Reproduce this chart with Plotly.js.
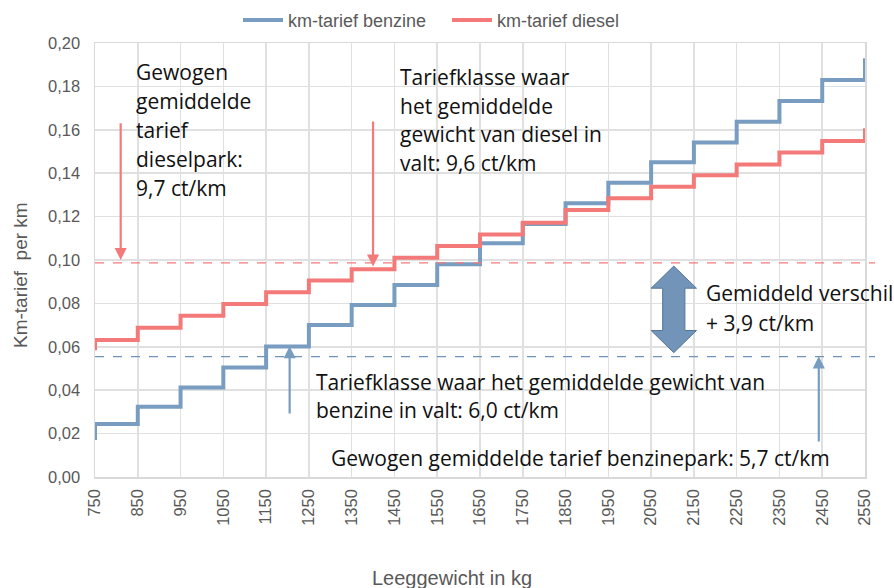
<!DOCTYPE html>
<html>
<head>
<meta charset="utf-8">
<script src="https://cdn.plot.ly/plotly-3.0.1.min.js"></script>
<style>html,body{margin:0;padding:0;background:#fff;}#chart{width:894px;height:588px;}</style>
</head>
<body>
<div id="chart"></div>
<script>
// Tariff class starts (kg); first class is below the visible range
const classStart = [650, 750, 850, 950, 1050, 1150, 1250, 1350, 1450, 1550, 1650, 1750, 1850, 1950, 2050, 2150, 2250, 2350, 2450, 2550];
const tariefBenzine = [0.0180, 0.0244, 0.0324, 0.0413, 0.0505, 0.0601, 0.0700, 0.0793, 0.0885, 0.0980, 0.1077, 0.1166, 0.1261, 0.1356, 0.1450, 0.1542, 0.1637, 0.1733, 0.1830, 0.1930];
const tariefDiesel  = [0.0593, 0.0631, 0.0688, 0.0743, 0.0797, 0.0851, 0.0905, 0.0957, 0.1010, 0.1065, 0.1118, 0.1172, 0.1230, 0.1284, 0.1338, 0.1390, 0.1440, 0.1495, 0.1548, 0.1607];
const seriesNames = ['km-tarief benzine', 'km-tarief diesel'];
const gemDieselPark = 0.0987;   // dashed red reference line
const gemBenzinePark = 0.0555;  // dashed blue reference line
const xTicks = [750, 850, 950, 1050, 1150, 1250, 1350, 1450, 1550, 1650, 1750, 1850, 1950, 2050, 2150, 2250, 2350, 2450, 2550];

const BLUE = '#789dc1';
const RED = '#f47a7a';
const TXT = '"Open Sans", "Noto Sans", sans-serif';
const AX = '"Liberation Sans", Arial, sans-serif';
const FS = 21;

const traces = [
  {x: classStart, y: tariefBenzine, name: seriesNames[0], type: 'scatter', mode: 'lines',
   line: {shape: 'hv', color: BLUE, width: 4}},
  {x: classStart, y: tariefDiesel, name: seriesNames[1], type: 'scatter', mode: 'lines',
   line: {shape: 'hv', color: RED, width: 4}}
];

function textLines(lines, x, yStart, step, size) {
  return lines.map((t, i) => ({
    text: t, x: x, y: yStart - i * step, xref: 'x', yref: 'y',
    xanchor: 'left', yanchor: 'middle', showarrow: false,
    font: {family: TXT, size: size, color: '#111'}
  }));
}
function arrow(x, yTail, yHead, color) {
  return {x: x, y: yHead, ax: x, ay: yTail, xref: 'x', yref: 'y', axref: 'x', ayref: 'y',
    text: '', showarrow: true, arrowhead: 2, arrowsize: 1.1, arrowwidth: 2.2, arrowcolor: color, standoff: 0};
}

const annotations = [].concat(
  textLines(['Gewogen', 'gemiddelde', 'tarief', 'dieselpark:', '9,7 ct/km'], 842, 0.1865, 0.0133, FS),
  textLines(['Tariefklasse waar', 'het gemiddelde', 'gewicht van diesel in', 'valt: 9,6 ct/km'], 1459, 0.1845, 0.0133, FS),
  textLines(['Tariefklasse waar het gemiddelde gewicht van', 'benzine in valt: 6,0 ct/km'], 1262, 0.0439, 0.0131, FS),
  textLines(['Gewogen gemiddelde tarief benzinepark: 5,7 ct/km'], 1297, 0.0086, 0.013, FS),
  textLines(['Gemiddeld verschil', '+ 3,9 ct/km'], 2173, 0.0847, 0.0136, FS),
  [arrow(810, 0.1637, 0.1000, RED), arrow(1400, 0.1645, 0.0970, RED),
   arrow(1205, 0.0286, 0.0603, BLUE), arrow(2442, 0.0157, 0.0556, BLUE),
   {text: 'Leeggewicht in kg', xref: 'paper', yref: 'paper', x: (452 - 95) / 770, y: -(578 - 477) / 434,
    xanchor: 'center', yanchor: 'middle', showarrow: false,
    font: {family: AX, size: 20, color: '#595959'}},
   {text: 'Km-tarief  per km', xref: 'paper', yref: 'paper', x: (20 - 95) / 770, y: (477 - 275) / 434,
    xanchor: 'center', yanchor: 'middle', showarrow: false, textangle: -90,
    font: {family: AX, size: 19, color: '#595959'}}]
);

// big double arrow
const cx = 2103, hw = 26, hh = 53, yT = 0.0972, yB = 0.0573, hd = 0.0102;
const dblPath = `M${cx},${yT} L${cx+hh},${yT-hd} L${cx+hw},${yT-hd} L${cx+hw},${yB+hd} L${cx+hh},${yB+hd} L${cx},${yB} L${cx-hh},${yB+hd} L${cx-hw},${yB+hd} L${cx-hw},${yT-hd} L${cx-hh},${yT-hd} Z`;

const shapes = [
  {type: 'line', xref: 'paper', yref: 'y', x0: 0, x1: 1.013, y0: gemDieselPark, y1: gemDieselPark,
   line: {color: RED, width: 1.2, dash: 'dash'}},
  {type: 'line', xref: 'paper', yref: 'y', x0: 0, x1: 1.013, y0: gemBenzinePark, y1: gemBenzinePark,
   line: {color: '#6f93b8', width: 1.2, dash: 'dash'}},
  {type: 'path', xref: 'x', yref: 'y', path: dblPath, fillcolor: '#7194b8', line: {color: '#55769a', width: 1}}
];

const layout = {
  width: 894, height: 588,
  margin: {l: 95, r: 29, t: 43, b: 111},
  paper_bgcolor: '#fff', plot_bgcolor: '#fff',
  separators: ',.',
  showlegend: true,
  legend: {orientation: 'h', xref: 'container', yref: 'container', x: 238 / 894, xanchor: 'left', y: 0.997, yanchor: 'top',
    font: {family: AX, size: 18, color: '#595959'}, itemwidth: 40, entrywidth: 154, tracegroupgap: 0, bgcolor: 'rgba(0,0,0,0)'},
  xaxis: {range: [750, 2550], tickvals: xTicks, ticktext: xTicks.map(String), tickangle: -90,
    showgrid: true, gridcolor: '#e0e0e0', gridwidth: 1.5, zeroline: false,
    showline: true, linecolor: '#d9d9d9', linewidth: 1.5, mirror: true, ticks: '',
    ticklabelstandoff: 4,
    tickfont: {family: AX, size: 16.5, color: '#595959'}},
  yaxis: {range: [0, 0.2], dtick: 0.02, tick0: 0, tickformat: '.2f',
    showgrid: true, gridcolor: '#e0e0e0', gridwidth: 1.5, zeroline: false,
    showline: true, linecolor: '#d9d9d9', linewidth: 1.5, mirror: true, ticks: '',
    ticklabelstandoff: 10,
    tickfont: {family: AX, size: 16.5, color: '#595959'}},
  annotations: annotations,
  shapes: shapes
};

Plotly.newPlot('chart', traces, layout, {displayModeBar: false, staticPlot: true});
</script>
</body>
</html>
